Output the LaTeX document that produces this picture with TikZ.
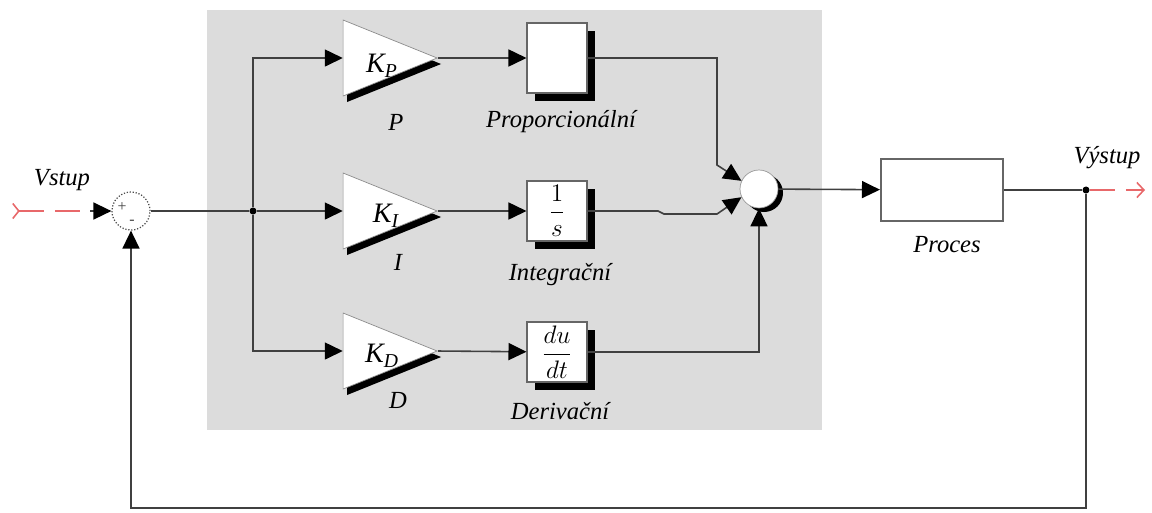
\documentclass[tikz,border=0pt]{standalone}
\usepackage{amsmath}
\usepackage{fontspec}
\setmainfont{Liberation Serif}
\usetikzlibrary{arrows.meta,shapes.geometric,shadows}
\definecolor{panelgray}{HTML}{DCDCDC}
\definecolor{sigred}{HTML}{E8686A}
\tikzset{
  wire/.style={draw=black!75,line width=0.9pt},
  arr/.style={wire,-{Triangle[length=0.36cm,width=0.34cm,color=black]}},
  sigline/.style={draw=sigred,line width=0.9pt,dash pattern=on 0.5cm off 0.22cm},
  gainnode/.style={isosceles triangle,isosceles triangle stretches,draw=black!45,fill=white,
    minimum width=1.52cm,minimum height=1.88cm,inner sep=0pt,
    drop shadow={shadow xshift=0.08cm,shadow yshift=-0.12cm,fill=black,opacity=1}},
  blocknode/.style={rectangle,draw=black!60,fill=white,line width=0.6pt,
    minimum width=1.2cm,minimum height=1.2cm,inner sep=0pt,font=\fontsize{15.5}{18}\selectfont,
    drop shadow={shadow xshift=0.16cm,shadow yshift=-0.16cm,fill=black,opacity=1}},
  sumnode/.style={circle,fill=white,minimum size=0.76cm,inner sep=0pt},
  lbl/.style={font=\fontsize{14}{16}\selectfont\itshape,inner sep=0pt},
  gainlbl/.style={font=\fontsize{16}{18}\selectfont\itshape,inner sep=0pt},
  dot/.style={circle,fill=black,inner sep=0pt,minimum size=4pt},
}
\begin{document}
\begin{tikzpicture}[x=0.02cm,y=-0.02cm]
	\useasboundingbox (0,0) rectangle (1152,512);
	% PID controller area
	\fill[panelgray] (207,10) rectangle (822,430);
	% summing points
	\node[sumnode,draw=black!70,densely dotted,line width=0.7pt](s1) at (131,211){};
	\node[font=\small,text=black!75](plus) at (122,207){+};
	\node[font=\small,text=black!75](minus) at (132,222){-};
	\node[sumnode,draw=black!40,drop shadow={shadow xshift=0.1cm,shadow yshift=-0.08cm,fill=black,opacity=1}](s2) at (759,189){};
	% gains
	\node[gainnode,anchor=apex](gP) at (438,58){};
	\node[gainnode,anchor=apex](gI) at (438,211){};
	\node[gainnode,anchor=apex](gD) at (438,351){};
	\node[gainlbl](kP) at (382,66){K\textsubscript{P}};
	\node[gainlbl](kI) at (386,216){K\textsubscript{I}};
	\node[gainlbl](kD) at (382,356){K\textsubscript{D}};
	% blocks
	\node[blocknode,minimum height=1.4cm](bP) at (557,58){};
	\node[blocknode](bI) at (557,211){$\dfrac{1}{s}$};
	\node[blocknode](bD) at (557,352){$\dfrac{du}{dt}$};
	\node[rectangle,draw=black!60,fill=white,line width=1.2pt,minimum width=2.44cm,minimum height=1.24cm](proc) at (942,190){};
	% labels
	\node[lbl](lin) at (62,180){Vstup};
	\node[lbl](lout) at (1107,158){Výstup};
	\node[lbl](lP) at (396,122){P};
	\node[lbl](lI) at (398,262){I};
	\node[lbl](lD) at (398,400){D};
	\node[lbl](lbP) at (561,122){Proporcionální};
	\node[lbl](lbI) at (560,275){Integrační};
	\node[lbl](lbD) at (560,411){Derivační};
	\node[lbl](lproc) at (947,245){Proces};
	% wiring
	\coordinate (in) at (12,211);
	\coordinate (inTip) at (90,211);
	\node[dot](br) at (253,211){};
	\node[dot](out) at (1086,190){};
	\coordinate (outEnd) at (1145,190);
	\coordinate (pc) at (717,165);
	\coordinate (ia) at (658,211);
	\coordinate (ib) at (664,214);
	\coordinate (ic) at (717,214);
	\coordinate (fb) at (1086,508);
	\draw[sigline,{Straight Barb[reversed,length=0.12cm,width=0.3cm]}-] (in)--(inTip);
	\draw[arr] (inTip)--(s1);
	\draw[wire] (s1)--(br);
	\draw[arr] (br) |- (gP.lower side);
	\draw[arr] (br)--(gI.lower side);
	\draw[arr] (br) |- (gD.lower side);
	\draw[arr] (gP.apex)--(bP);
	\draw[arr] (gI.apex)--(bI);
	\draw[arr] (gD.apex)--(bD);
	\draw[arr] (bP) -| (pc)--(s2.155);
	\draw[arr] (bI)--(ia)--(ib)--(ic)--(s2.205);
	\draw[arr] (bD) -| (s2);
	\draw[arr] (s2)--(proc);
	\draw[wire] (proc)--(out);
	\draw[sigline,-{Straight Barb[length=0.14cm,width=0.3cm]}] (out)--(outEnd);
	\draw[arr] (out)--(fb) -| (s1);
\end{tikzpicture}
\end{document}
